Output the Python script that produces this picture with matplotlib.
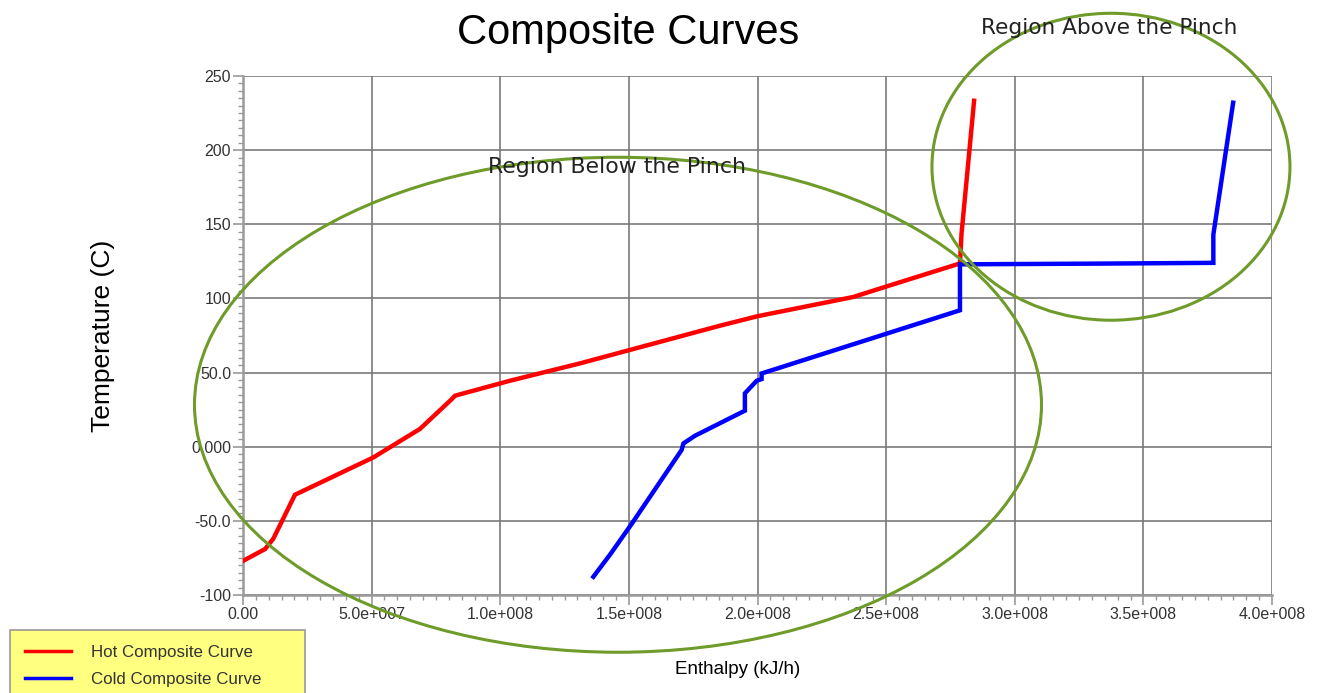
import matplotlib
matplotlib.use("Agg")
import matplotlib.pyplot as plt
from matplotlib.patches import Ellipse
from matplotlib.ticker import MultipleLocator, FixedLocator, FixedFormatter

# ---- data ----
hot_enthalpy = [0.0, 0.86e7, 1.18e7, 2.02e7, 5.07e7, 6.88e7, 8.11e7, 8.24e7,
                1.038e8, 1.31e8, 1.854e8, 2.0e8, 2.373e8, 2.5e8, 2.787e8,
                2.793e8, 2.842e8]
hot_temp = [-77, -69, -62, -32.4, -7.2, 12, 32, 34.4,
            44.5, 56.2, 81.6, 88, 101, 108, 123.6,
            143.4, 233.3]

cold_enthalpy = [1.362e8, 1.43e8, 1.511e8, 1.705e8, 1.712e8, 1.757e8, 1.951e8,
                 1.951e8, 1.997e8, 2.016e8, 2.016e8, 2.787e8, 2.787e8,
                 3.35e8, 3.772e8, 3.772e8, 3.849e8]
cold_temp = [-87.7, -72, -52, -2.2, 2.2, 7.4, 24.3,
             36, 44.5, 45.6, 49.4, 92, 123,
             123.5, 124, 143, 232]

x_ticks = [0, 0.5e8, 1.0e8, 1.5e8, 2.0e8, 2.5e8, 3.0e8, 3.5e8, 4.0e8]
x_tick_labels = ["0.00", "5.0e+007", "1.0e+008", "1.5e+008", "2.0e+008",
                 "2.5e+008", "3.0e+008", "3.5e+008", "4.0e+008"]
y_ticks = [-100, -50, 0, 50, 100, 150, 200, 250]
y_tick_labels = ["-100", "-50.0", "0.000", "50.0", "100", "150", "200", "250"]

# region ellipses: (center_x, center_y, width, height) in data units
region_below = (1.4577e8, 28.3, 3.2925e8, 333.8)
region_above = (3.374e8, 188.8, 1.3916e8, 207.0)

# ---- figure ----
W, H = 1319, 693
fig = plt.figure(figsize=(W / 100, H / 100), dpi=100)
ax = fig.add_axes([243 / W, 1 - 595 / H, (1272 - 243) / W, (595 - 76) / H])

ax.plot(hot_enthalpy, hot_temp, color="#ff0000", lw=3.2, solid_joinstyle="miter",
        label="Hot Composite Curve", zorder=3)
ax.plot(cold_enthalpy, cold_temp, color="#0000ff", lw=3.2, solid_joinstyle="miter",
        label="Cold Composite Curve", zorder=3)

ax.set_xlim(0, 4.0e8)
ax.set_ylim(-100, 250)

ax.xaxis.set_major_locator(FixedLocator(x_ticks))
ax.xaxis.set_major_formatter(FixedFormatter(x_tick_labels))
ax.yaxis.set_major_locator(FixedLocator(y_ticks))
ax.yaxis.set_major_formatter(FixedFormatter(y_tick_labels))
ax.xaxis.set_minor_locator(MultipleLocator(0.05e8))
ax.yaxis.set_minor_locator(MultipleLocator(5))

ax.grid(True, which="major", color="#7a7a7a", lw=1.2, zorder=1)
ax.set_axisbelow(True)

for s in ["top", "right"]:
    ax.spines[s].set_visible(False)
for s in ["left", "bottom"]:
    ax.spines[s].set_color("#9a9a9a")
    ax.spines[s].set_linewidth(1.8)

ax.tick_params(which="major", direction="out", length=7.5, width=1.2,
               color="#9a9a9a", labelsize=11.5, labelcolor="#333333", pad=1)
ax.tick_params(which="minor", direction="out", length=3.5, width=1.0,
               color="#9a9a9a")
for lab in ax.get_xticklabels() + ax.get_yticklabels():
    lab.set_fontfamily("Liberation Sans")

# ellipses
for (cx, cy, w, h) in (region_below, region_above):
    e = Ellipse((cx, cy), w, h, fill=False, edgecolor="#6e9b2a", lw=2.2,
                clip_on=False, zorder=4)
    ax.add_patch(e)

# labels
ax.set_ylabel("Temperature (C)", fontsize=19, fontfamily="Liberation Sans",
              va="center")
ax.yaxis.set_label_coords((103 - 243) / (1272 - 243), 0.5)
ax.set_xlabel("Enthalpy (kJ/h)", fontsize=13.5, fontfamily="Liberation Sans",
              va="center")
ax.xaxis.set_label_coords((738 - 243) / (1272 - 243), (595 - 670) / (595 - 76))

fig.text(628 / W, 1 - 33 / H, "Composite Curves", fontsize=30,
         fontfamily="Liberation Sans", ha="center", va="center")

fig.text(617 / W, 1 - 167 / H, "Region Below the Pinch", fontsize=15.8,
         fontfamily="DejaVu Sans", ha="center", va="center", color="#222222",
         zorder=10)
fig.text(1109 / W, 1 - 28 / H, "Region Above the Pinch", fontsize=15.6,
         fontfamily="DejaVu Sans", ha="center", va="center", color="#222222",
         zorder=10)

leg = fig.legend(loc="upper left",
                 bbox_to_anchor=(10 / W, 1 - 700 / H, (305 - 10) / W, 70 / H),
                 bbox_transform=fig.transFigure, borderaxespad=0, mode="expand",
                 prop={"family": "Liberation Sans", "size": 12.2},
                 handlelength=2.7, handletextpad=1.2, labelspacing=0.7,
                 borderpad=0.9, fancybox=False, framealpha=1)
leg.get_frame().set_facecolor("#ffff80")
leg.get_frame().set_edgecolor("#999999")
leg.get_frame().set_linewidth(1.2)
for t in leg.get_texts():
    t.set_color("#333333")
for l in leg.get_lines():
    l.set_linewidth(2.5)

fig.savefig("out.png", dpi=100)
